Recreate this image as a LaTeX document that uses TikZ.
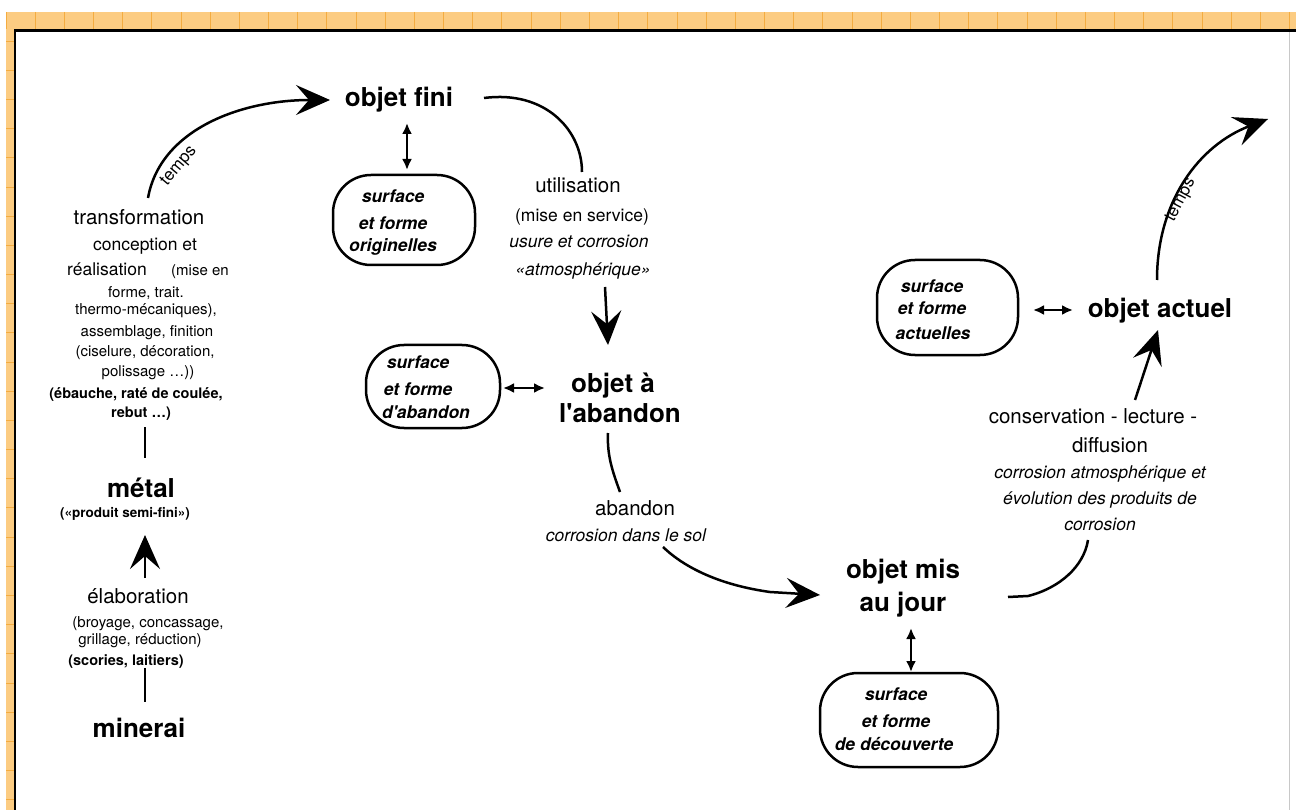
\documentclass[tikz,border=0pt]{standalone}
\usepackage{fontspec}
\setmainfont{TeX Gyre Heros}
\usetikzlibrary{arrows.meta}
\definecolor{bandorange}{RGB}{252,204,130}
\definecolor{gridorange}{RGB}{244,172,64}
\definecolor{framegray}{RGB}{200,200,200}
\begin{document}
\begin{tikzpicture}[x=1pt,y=-1pt,
  lbl/.style={inner sep=0pt, anchor=base},
  big/.style={lbl, font=\fontsize{26}{30}\selectfont\bfseries},
  med/.style={lbl, font=\fontsize{20.5}{24}\selectfont},
  sub/.style={lbl, font=\fontsize{17.5}{21}\selectfont},
  sm/.style={lbl, font=\fontsize{15}{18}\selectfont},
  bsm/.style={lbl, font=\fontsize{14.5}{18}\selectfont\bfseries},
  itl/.style={lbl, font=\fontsize{17.5}{21}\selectfont\itshape},
  bitl/.style={lbl, font=\fontsize{17.5}{21}\selectfont\bfseries\itshape},
  tempslbl/.style={inner sep=0pt, font=\fontsize{17}{20}\selectfont},
  frm/.style={draw, line width=2.5pt, rounded corners=38pt, inner sep=0pt},
  bigarrow/.style={line width=2.5pt, -{Stealth[length=34pt,width=30pt,inset=13pt]}},
  dbl/.style={line width=2.2pt, {Latex[length=11pt,width=10pt]}-{Latex[length=11pt,width=10pt]}},
  conn/.style={line width=2.5pt},
  gridln/.style={gridorange, line width=0.8pt}
]
\useasboundingbox (0,0) rectangle (1296,810);
% page background bands
\fill[bandorange] (6,12) rectangle (1296,30);
\fill[bandorange] (6,12) rectangle (15,810);
\foreach \i in {0,...,44} \draw[gridln] ({6+29.17*\i},12) -- ({6+29.17*\i},29);
\foreach \j in {1,...,27} \draw[gridln] (6,{12+29.17*\j}) -- (14,{12+29.17*\j});
\draw[framegray, line width=1pt] (1289,31) -- (1289,810);
\draw[black, line width=2.5pt] (14,30.5) -- (1296,30.5);
\draw[black, line width=2.5pt] (15,30) -- (15,810);

% ---------- left column ----------
\node[med] (tTransf) at (139,225) {transformation};
\node[sub] (tConc) at (145,251) {conception et};
\node[sub] (tReal) at (107,276) {réalisation};
\node[sm] (tMise) at (200,276) {(mise en};
\node[sm] (tForme) at (146,298) {forme, trait.};
\node[sm] (tThermo) at (146,315) {thermo-mécaniques),};
\node[sm] (tAssem) at (147,337) {assemblage, finition};
\node[sm] (tCisel) at (145,356) {(ciselure, décoration,};
\node[sm] (tPoliss) at (148,377) {polissage \ldots))};
\node[bsm] (tEbau) at (136,398) {(ébauche, raté de coulée,};
\node[bsm] (tRebut) at (141,417) {rebut \ldots)};
\coordinate (lA) at (145,427); \coordinate (lB) at (145,458);
\draw[conn] (lA) -- (lB);
\node[big] (metal) at (141,497) {métal};
\node[lbl, font=\fontsize{13.5}{16}\selectfont\bfseries] (tProd) at (125,517) {(«produit semi-fini»)};
\coordinate (mA) at (145,578); \coordinate (mB) at (145,535);
\draw[bigarrow] (mA) -- (mB);
\node[med] (tElab) at (138,603) {élaboration};
\node[sm] (tBroy) at (148,627) {(broyage, concassage,};
\node[sm] (tGrill) at (140,644) {grillage, réduction)};
\node[bsm] (tScor) at (126,665) {(scories, laitiers)};
\coordinate (nA) at (145,668); \coordinate (nB) at (145,702);
\draw[conn] (nA) -- (nB);
\node[big] (minerai) at (139,737) {minerai};

% temps arrow (left)
\coordinate (tpA) at (148,198); \coordinate (tpB) at (330,100);
\draw[bigarrow] (tpA) .. controls (160,130) and (240,100) .. (tpB);
\node[tempslbl, rotate=50] (temps1) at (179,166) {temps};

% ---------- objet fini ----------
\node[big] (fini) at (399,107) {objet fini};
\node[frm, minimum width=142pt, minimum height=90pt] (bOrig) at (404,220) {};
\node[bitl] (o1) at (393,203) {surface};
\node[bitl] (o2) at (393,230) {et forme};
\node[bitl] (o3) at (393,252) {originelles};
\coordinate (dOa) at (407,123); \coordinate (dOb) at (407,170);
\draw[dbl] (dOa) -- (dOb);

\coordinate (uA) at (484,98); \coordinate (uB) at (582,172);
\draw[conn] (uA) .. controls (545,90) and (582,130) .. (uB);
\node[med] (tUtil) at (578,193) {utilisation};
\node[sub] (tMiseServ) at (582,222) {(mise en service)};
\node[itl] (tUsure) at (579,248) {usure et corrosion};
\node[itl] (tAtmo) at (583,276) {«atmosphérique»};
\coordinate (aA) at (605,287); \coordinate (aB) at (608,345);
\draw[bigarrow] (aA) -- (aB);

% ---------- objet a l'abandon ----------
\node[big] (ab1) at (613,392) {objet à};
\node[big] (ab2) at (620,422) {l\textquotesingle abandon};
\node[frm, minimum width=134pt, minimum height=83pt] (bAband) at (433,386.5) {};
\node[bitl] (a1) at (418,368) {surface};
\node[bitl] (a2) at (418,395) {et forme};
\node[bitl] (a3) at (426,418) {d\textquotesingle abandon};
\coordinate (dAa) at (503,388); \coordinate (dAb) at (545,388);
\draw[dbl] (dAa) -- (dAb);

\coordinate (wA) at (608,433); \coordinate (wB) at (620,492);
\draw[conn] (wA) .. controls (607,455) and (612,470) .. (wB);
\node[med] (tAban) at (635,515) {abandon};
\node[itl] (tSol) at (626,541) {corrosion dans le sol};
\coordinate (sA) at (663,547); \coordinate (sB) at (820,595);
\draw[bigarrow] (sA) .. controls (685,568) and (720,585) .. (770,592) -- (sB);

% ---------- objet mis au jour ----------
\node[big] (mis1) at (903,578) {objet mis};
\node[big] (mis2) at (903,611) {au jour};
\coordinate (dMa) at (911,628); \coordinate (dMb) at (911,672);
\draw[dbl] (dMa) -- (dMb);
\node[frm, minimum width=178pt, minimum height=94pt] (bDecouv) at (909,720) {};
\node[bitl] (d1) at (896,700) {surface};
\node[bitl] (d2) at (896,727) {et forme};
\node[bitl] (d3) at (894,750) {de découverte};

\coordinate (cA) at (1008,597); \coordinate (cB) at (1088,540);
\draw[conn] (cA) -- (1028,596) .. controls (1060,588) and (1084,566) .. (cB);
\node[med] (tCons) at (1093,423) {conservation - lecture -};
\node[med] (tDiff) at (1110,452) {diffusion};
\node[itl] (tCorr1) at (1100,478) {corrosion atmosphérique et};
\node[itl] (tCorr2) at (1100,504) {évolution des produits de};
\node[itl] (tCorr3) at (1100,530) {corrosion};
\coordinate (kA) at (1135,400); \coordinate (kB) at (1158,330);
\draw[bigarrow] (kA) -- (kB);

% ---------- objet actuel ----------
\node[big] (actuel) at (1160,318) {objet actuel};
\node[frm, minimum width=141pt, minimum height=95pt] (bActu) at (947.5,307.5) {};
\node[bitl] (c1) at (932,293) {surface};
\node[bitl] (c2) at (932,315) {et forme};
\node[bitl] (c3) at (933,340) {actuelles};
\coordinate (dCa) at (1033,310); \coordinate (dCb) at (1073,310);
\draw[dbl] (dCa) -- (dCb);

\coordinate (rA) at (1157,280); \coordinate (rB) at (1268,119);
\draw[bigarrow] (rA) .. controls (1157,200) and (1200,145) .. (rB);
\node[tempslbl, rotate=62] (temps2) at (1181,200) {temps};
\end{tikzpicture}
\end{document}
